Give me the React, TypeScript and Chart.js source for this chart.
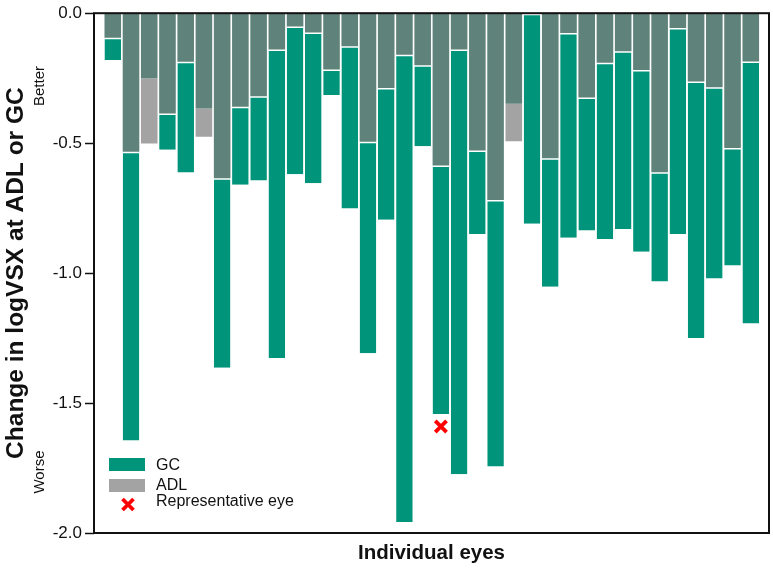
import React, { useEffect, useRef } from 'react';
import { Chart, registerables } from 'chart.js';

Chart.register(...registerables);

// ---- data ----
const eyeIds = [1, 2, 3, 4, 5, 6, 7, 8, 9, 10, 11, 12, 13, 14, 15, 16, 17, 18, 19, 20, 21, 22, 23, 24, 25, 26, 27, 28, 29, 30, 31, 32, 33, 34, 35, 36];
const gcChange = [
  -0.18, -1.644, -0.25, -0.525, -0.613, -0.367, -1.364, -0.66, -0.644, -1.327, -0.62, -0.654,
  -0.315, -0.751, -1.308, -0.795, -1.958, -0.512, -1.542, -1.774, -0.85, -1.744, -0.348, -0.81,
  -1.053, -0.864, -0.836, -0.869, -0.83, -0.918, -1.032, -0.85, -1.25, -1.021, -0.971, -1.194,
];
const adlChange = [
  -0.094, -0.533, -0.501, -0.386, -0.187, -0.475, -0.635, -0.36, -0.32, -0.14, -0.051, -0.074,
  -0.217, -0.127, -0.495, -0.288, -0.16, -0.2, -0.586, -0.14, -0.528, -0.719, -0.493, 0,
  -0.558, -0.076, -0.324, -0.191, -0.146, -0.219, -0.612, -0.057, -0.263, -0.285, -0.519, -0.186,
];
const representativeEye = 19;
const representativeValue = -1.59;
const yTicks = [0, -0.5, -1.0, -1.5, -2.0];
const legendItems = ['GC', 'ADL', 'Representative eye'];

const GREEN = '#00957a';
const DARK = '#5f837a';
const GRAY = '#a3a3a3';
const FONT = "Arial, 'Liberation Sans', sans-serif";

const overlapData = eyeIds.map((id, i) => ({ x: id, y: Math.max(gcChange[i], adlChange[i]) }));
const gcExtraData = eyeIds.map((id, i) => ({ x: id, y: Math.min(gcChange[i] - adlChange[i], 0) }));
const adlExtraData = eyeIds.map((id, i) => ({ x: id, y: Math.min(adlChange[i] - gcChange[i], 0) }));

const decorPlugin = {
  id: 'decor',
  afterDraw(chart: any) {
    const { ctx, chartArea } = chart;
    ctx.save();
    // frame
    ctx.strokeStyle = '#111';
    ctx.lineWidth = 2;
    ctx.strokeRect(chartArea.left, chartArea.top, chartArea.right - chartArea.left, chartArea.bottom - chartArea.top);

    // Better / Worse
    ctx.fillStyle = '#111';
    ctx.font = `15px ${FONT}`;
    ctx.textAlign = 'center';
    ctx.textBaseline = 'middle';
    const drawRot = (t: string, x: number, y: number) => {
      ctx.save();
      ctx.translate(x, y);
      ctx.rotate(-Math.PI / 2);
      ctx.fillText(t, 0, 0);
      ctx.restore();
    };
    drawRot('Better', 40, 86);
    drawRot('Worse', 40, 472);

    // legend
    const sx = 109;
    const sw = 36;
    const sh = 13;
    ctx.fillStyle = GREEN;
    ctx.fillRect(sx, 458, sw, sh);
    ctx.fillStyle = GRAY;
    ctx.fillRect(sx, 479, sw, sh);
    // red x
    ctx.strokeStyle = '#ff0000';
    ctx.lineWidth = 3.8;
    const cx = 128;
    const cy = 504.5;
    const r = 5.5;
    ctx.beginPath();
    ctx.moveTo(cx - r, cy - r);
    ctx.lineTo(cx + r, cy + r);
    ctx.moveTo(cx + r, cy - r);
    ctx.lineTo(cx - r, cy + r);
    ctx.stroke();

    ctx.fillStyle = '#111';
    ctx.font = `16px ${FONT}`;
    ctx.textAlign = 'left';
    ctx.textBaseline = 'middle';
    ctx.fillText(legendItems[0], 156, 465.5);
    ctx.fillText(legendItems[1], 156, 485.5);
    ctx.fillText(legendItems[2], 156, 502);
    ctx.restore();
  },
};

export default function App() {
  const canvasRef = useRef<HTMLCanvasElement | null>(null);

  useEffect(() => {
    if (!canvasRef.current) return;
    Chart.defaults.font.family = FONT;
    const chart = new Chart(canvasRef.current, {
      type: 'bar',
      data: {
        datasets: [
          {
            type: 'bar',
            label: 'Overlap',
            data: overlapData,
            backgroundColor: DARK,
            borderWidth: 0,
            borderSkipped: false,
            stack: 'eyes',
            barPercentage: 0.91,
            categoryPercentage: 1,
          },
          {
            type: 'bar',
            label: 'GC',
            data: gcExtraData,
            backgroundColor: GREEN,
            borderColor: '#ffffff',
            borderWidth: { top: 1.5, left: 0, right: 0, bottom: 0 },
            borderSkipped: false,
            stack: 'eyes',
            barPercentage: 0.91,
            categoryPercentage: 1,
          },
          {
            type: 'bar',
            label: 'ADL',
            data: adlExtraData,
            backgroundColor: GRAY,
            borderWidth: 0,
            borderSkipped: false,
            stack: 'eyes',
            barPercentage: 0.91,
            categoryPercentage: 1,
          },
          {
            type: 'scatter',
            label: 'Representative eye',
            data: [{ x: representativeEye, y: representativeValue }],
            pointStyle: 'cross',
            rotation: 45,
            radius: 8,
            borderWidth: 3.8,
            borderColor: '#ff0000',
            backgroundColor: '#ff0000',
            stack: 'marker',
          } as any,
        ],
      },
      options: {
        responsive: false,
        animation: false,
        devicePixelRatio: 1,
        layout: { autoPadding: false, padding: { top: 10, right: 4, bottom: 0, left: 0 } },
        plugins: {
          legend: { display: false },
          tooltip: { enabled: false },
        },
        scales: {
          x: {
            type: 'linear',
            min: -0.03,
            max: 37,
            offset: false,
            stacked: true,
            grid: { display: false, drawTicks: false, offset: false },
            border: { display: false },
            ticks: { display: false },
            title: {
              display: true,
              text: 'Individual eyes',
              color: '#111',
              font: { size: 20.5, weight: 'bold', family: FONT },
              padding: { top: 0, bottom: 7.5 },
            },
            afterFit: (scale: any) => {
              scale.height = 40;
            },
          },
          y: {
            type: 'linear',
            min: -2,
            max: 0,
            stacked: true,
            afterBuildTicks: (scale: any) => {
              scale.ticks = yTicks.map((v) => ({ value: v }));
            },
            ticks: {
              color: '#111',
              font: { size: 17, family: FONT },
              padding: 3,
              callback: (v: any) => Number(v).toFixed(1),
            },
            grid: {
              display: true,
              drawOnChartArea: false,
              drawTicks: true,
              tickLength: 9,
              tickColor: '#111',
              tickWidth: 1.5,
            },
            border: { display: false },
            title: {
              display: true,
              text: 'Change in logVSX at ADL or GC',
              color: '#111',
              font: { size: 24.5, weight: 'bold', family: FONT },
              padding: { top: 2, bottom: 0 },
            },
            afterFit: (scale: any) => {
              scale.width = 94;
            },
          },
        },
      },
      plugins: [decorPlugin],
    } as any);
    return () => chart.destroy();
  }, []);

  return (
    <div style={{ position: 'absolute', left: 0, top: 0, width: 773, height: 573, background: '#fff' }}>
      <canvas ref={canvasRef} width={773} height={573} style={{ display: 'block' }} />
    </div>
  );
}
